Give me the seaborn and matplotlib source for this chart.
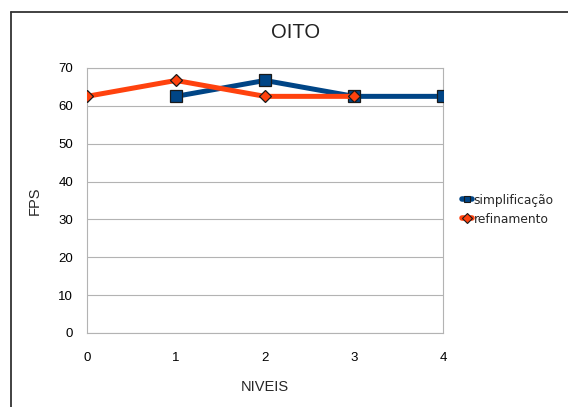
import pandas as pd
import matplotlib
matplotlib.use("Agg")
import matplotlib.pyplot as plt
import seaborn as sns
from matplotlib.lines import Line2D

# dados
niveis_simp = [1, 2, 3, 4]
fps_simp = [62.5, 66.7, 62.5, 62.5]
niveis_ref = [0, 1, 2, 3]
fps_ref = [62.5, 66.7, 62.5, 62.5]
series = ["simplificação", "refinamento"]
yticks = [0, 10, 20, 30, 40, 50, 60, 70]
xticks = [0, 1, 2, 3, 4]

df = pd.concat([
    pd.DataFrame({"NIVEIS": niveis_simp, "FPS": fps_simp, "serie": series[0]}),
    pd.DataFrame({"NIVEIS": niveis_ref, "FPS": fps_ref, "serie": series[1]}),
])

sns.set_style("white")
plt.rcParams["font.family"] = ["Liberation Sans", "DejaVu Sans"]

cores = {"simplificação": "#004586", "refinamento": "#ff420e"}
marcadores = {"simplificação": "s", "refinamento": "D"}

fig = plt.figure(figsize=(5.68, 4.07), dpi=100)
ax = fig.add_axes([0.153, 0.182, 0.627, 0.651])

ax.set_axisbelow(True)
ax.grid(axis="y", color="#b3b3b3", linewidth=0.8)

for nome in series:
    d = df[df["serie"] == nome]
    ms = 8 if nome == "simplificação" else 6.5
    sns.lineplot(data=d, x="NIVEIS", y="FPS", ax=ax, color=cores[nome],
                 linewidth=3.6, marker=marcadores[nome], markersize=ms,
                 markeredgecolor="#1a1a1a", markeredgewidth=0.9, label=nome,
                 zorder=3 if nome == "simplificação" else 4)

ax.set_xlim(0, 4)
ax.set_ylim(0, 70)
ax.set_xticks(xticks)
ax.set_yticks(yticks)
ax.tick_params(axis="both", direction="out", length=4, width=0.8,
               color="#b3b3b3", labelsize=9.5, labelcolor="#000000", pad=6)
ax.tick_params(axis="x", pad=10)
for s in ax.spines.values():
    s.set_color("#b3b3b3")
    s.set_linewidth(0.8)

ax.set_xlabel("NIVEIS", fontsize=10.5, labelpad=11)
ax.set_ylabel("FPS", fontsize=10.5, labelpad=12)
fig.text(296 / 568, 1 - 33 / 407, "OITO", fontsize=14.5, color="#222222",
         ha="center", va="center")

leg = ax.get_legend()
if leg is not None:
    leg.remove()
handles = [Line2D([], [], color=cores[n], linewidth=4, marker=marcadores[n],
                  markersize=5, markeredgecolor="#1a1a1a", markeredgewidth=0.8)
           for n in series]
fig.legend(handles, series, loc="center left", bbox_to_anchor=(0.805, 0.485),
           frameon=False, handlelength=0.8, handletextpad=0.15,
           labelspacing=0.5, borderaxespad=0,
           prop={"family": "DejaVu Sans", "size": 8.8})

# moldura externa (cortada na direita e embaixo)
fig.add_artist(Line2D([11 / 568, 11 / 568], [0, 1 - 12 / 407],
                      transform=fig.transFigure, color="#333333", linewidth=1.3))
fig.add_artist(Line2D([11 / 568, 1], [1 - 12 / 407, 1 - 12 / 407],
                      transform=fig.transFigure, color="#333333", linewidth=1.3))

fig.savefig("out.png", dpi=100)
